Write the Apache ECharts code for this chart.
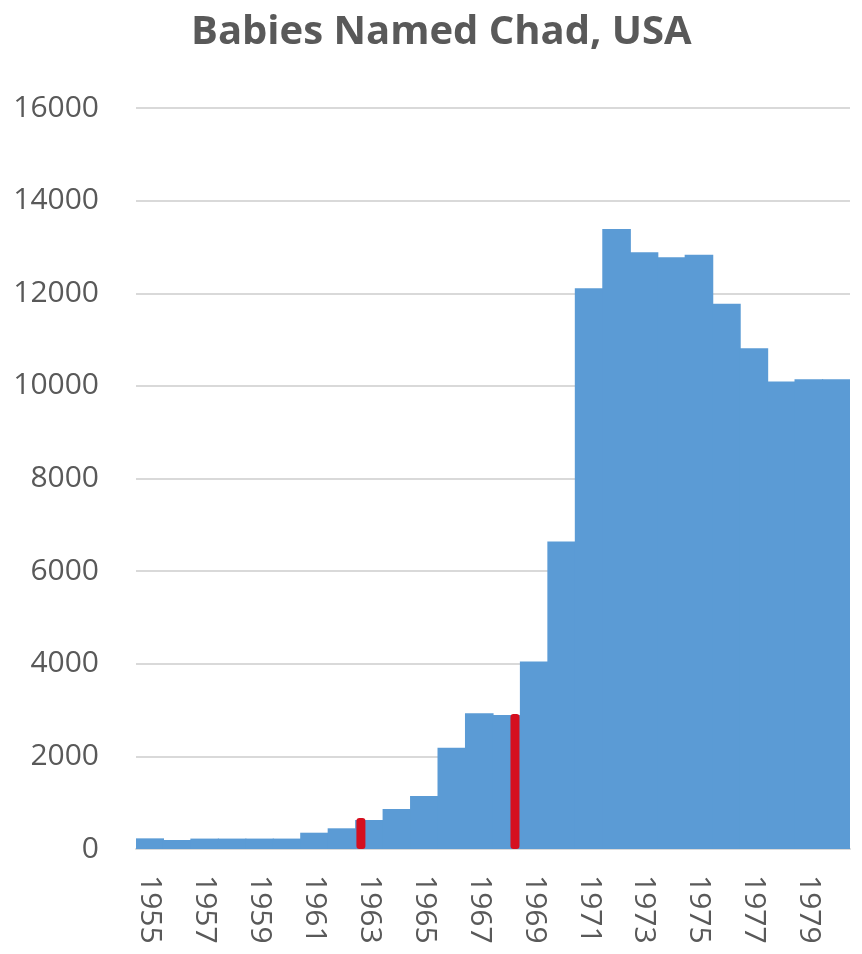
<!DOCTYPE html>
<html>
<head>
<meta charset="utf-8">
<script src="https://cdn.jsdelivr.net/npm/echarts@6/dist/echarts.min.js"></script>
<style>html,body{margin:0;padding:0;background:#fff}#c{width:862px;height:954px}</style>
</head>
<body>
<div id="c"></div>
<script>
const years = ['1955','1956','1957','1958','1959','1960','1961','1962','1963','1964','1965','1966','1967','1968','1969','1970','1971','1972','1973','1974','1975','1976','1977','1978','1979','1980'];
const births = [230,195,225,225,225,225,352,447,626,864,1145,2188,2931,2894,4046,6640,12110,13390,12887,12780,12830,11771,10814,10093,10145,10145];
const markerPositions = [1963.19, 1968.8];
const markerValues = [670, 2915];
const yTicks = [0,2000,4000,6000,8000,10000,12000,14000,16000];

const chart = echarts.init(document.getElementById('c'));
const font = '"Open Sans", sans-serif';
chart.setOption({
  animation: false,
  title: {
    text: 'Babies Named Chad, USA',
    left: 186, top: 8,
    textStyle: {fontFamily: font, fontWeight: 'bold', fontSize: 40, color: '#595959'}
  },
  grid: {left: 136, right: 12, top: 108, bottom: 105},
  xAxis: [{
    type: 'category', data: years,
    axisLine: {show: true, lineStyle: {color: '#d9d9d9', width: 2}},
    axisTick: {show: false},
    axisLabel: {interval: 1, rotate: -90, fontFamily: font, fontSize: 30, color: '#595959', margin: 26, verticalAlign: 'middle'}
  }, {
    type: 'value', min: 1955, max: 1981, show: false
  }],
  yAxis: {
    type: 'value', min: yTicks[0], max: yTicks[yTicks.length-1], interval: 2000,
    axisLine: {show: false}, axisTick: {show: false},
    axisLabel: {fontFamily: font, fontSize: 30, color: '#595959', margin: 37, formatter: v => String(v)},
    splitLine: {lineStyle: {color: '#d9d9d9', width: 2}}
  },
  series: [{
    type: 'bar', data: births, xAxisIndex: 0,
    barWidth: 28.6,
    itemStyle: {color: '#5B9BD5'}
  }, {
    type: 'bar', xAxisIndex: 1,
    data: markerPositions.map((p, i) => [p, markerValues[i]]),
    barWidth: 9,
    itemStyle: {color: '#D50F1F', borderRadius: 3},
    z: 5
  }]
});
</script>
</body>
</html>
